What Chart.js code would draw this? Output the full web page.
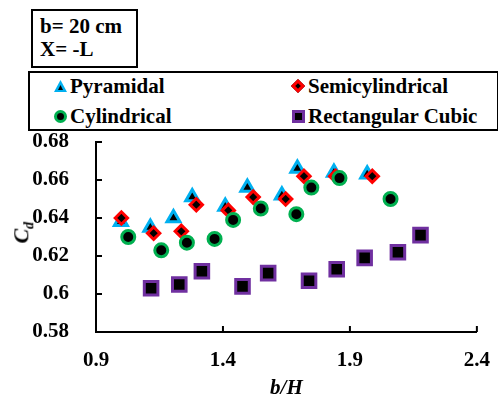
<!DOCTYPE html>
<html lang="en">
<head>
    <meta charset="UTF-8">
    <title>Cd vs b/H</title>
    <script src="https://cdn.jsdelivr.net/npm/chart.js"></script>
    <style>
        body { margin: 0; background: #fff; font-family: 'Liberation Serif', 'Times New Roman', serif; }
        #wrap { position: relative; width: 498px; height: 398px; }
        #wrap canvas { position: absolute; left: 0; top: 0; }
        .box { position: absolute; border: 2px solid #000; background: #fff; font-weight: bold; font-size: 21px; color: #000; }
        #note { left: 31px; top: 9px; width: 96px; height: 55px; line-height: 23px; padding-left: 7px; box-sizing: content-box; }
        #note div { position: relative; top: 4px; }
        #legend { left: 28px; top: 71px; width: 467px; height: 56px; }
        .item { position: absolute; height: 24px; line-height: 24px; white-space: nowrap; }
        .item span { position: absolute; left: 10px; top: 0; }
        .mk { position: absolute; left: -6px; top: 6px; box-sizing: border-box; }
        .tri { width: 13px; height: 12px; background: #00b0f0; clip-path: polygon(50% 0, 100% 100%, 0 100%); left: -6px; top: 6px; }
        .tri::after { content: ''; position: absolute; left: 4px; top: 5px; width: 5px; height: 5px; background: #000; clip-path: polygon(50% 0, 100% 100%, 0 100%); }
        .dia { width: 10px; height: 10px; border: 3px solid #ff0000; background: #000; transform: rotate(45deg); left: -5px; top: 7px; }
        .cir { width: 13px; height: 13px; border: 3px solid #00b050; background: #000; border-radius: 50%; }
        .sq { width: 13px; height: 13px; border: 3px solid #7030a0; background: #000; }
        #ytitle { position: absolute; left: 8px; top: 218px; transform: rotate(-90deg); transform-origin: center; font-weight: bold; font-style: italic; font-size: 22px; width: 30px; text-align: center; }
        #ytitle sub { font-size: 14px; }
    </style>
</head>
<body>
<div id="wrap">
    <canvas id="chart" width="498" height="398"></canvas>
    <div class="box" id="note"><div>b= 20 cm</div><div>X= -L</div></div>
    <div class="box" id="legend">
        <div class="item" style="left:30px;top:1px"><i class="mk tri"></i><span>Pyramidal</span></div>
        <div class="item" style="left:268px;top:1px"><i class="mk dia"></i><span>Semicylindrical</span></div>
        <div class="item" style="left:30px;top:31px"><i class="mk cir"></i><span>Cylindrical</span></div>
        <div class="item" style="left:268px;top:31px"><i class="mk sq"></i><span>Rectangular Cubic</span></div>
    </div>
    <div id="ytitle">C<sub>d</sub></div>
</div>

<script>
    // values
    const pyrX = [0.998, 1.114, 1.205, 1.279, 1.409, 1.496, 1.632, 1.693, 1.837, 1.968];
    const pyrY = [0.638, 0.635, 0.640, 0.651, 0.646, 0.656, 0.652, 0.666, 0.664, 0.663];

    const semiX = [1.000, 1.127, 1.236, 1.295, 1.421, 1.519, 1.647, 1.719, 1.844, 1.988];
    const semiY = [0.640, 0.632, 0.633, 0.647, 0.644, 0.651, 0.650, 0.662, 0.662, 0.662];

    const cylX = [1.027, 1.157, 1.258, 1.367, 1.440, 1.549, 1.689, 1.748, 1.859, 2.060];
    const cylY = [0.630, 0.623, 0.627, 0.629, 0.639, 0.645, 0.642, 0.656, 0.661, 0.650];

    const rectX = [1.117, 1.228, 1.317, 1.477, 1.578, 1.739, 1.848, 1.958, 2.089, 2.178];
    const rectY = [0.603, 0.605, 0.612, 0.604, 0.611, 0.607, 0.613, 0.619, 0.622, 0.631];

    const xTicks = [0.9, 1.4, 1.9, 2.4];
    const yTicks = [0.58, 0.60, 0.62, 0.64, 0.66, 0.68];

    const pts = (xs, ys) => xs.map((x, i) => ({ x: x, y: ys[i] }));

    Chart.defaults.font.family = "'Liberation Serif', 'Times New Roman', serif";
    Chart.defaults.font.weight = 'bold';
    Chart.defaults.font.size = 21;
    Chart.defaults.color = '#000';

    // short tick marks pointing into the plot
    const inwardTicks = {
        id: 'inwardTicks',
        beforeDatasetsDraw(chart) {
            const { ctx, chartArea: a, scales: { x, y } } = chart;
            ctx.save();
            ctx.strokeStyle = '#000';
            ctx.lineWidth = 2;
            ctx.beginPath();
            xTicks.forEach(v => {
                const px = x.getPixelForValue(v);
                ctx.moveTo(px, a.bottom);
                ctx.lineTo(px, a.bottom - 6);
            });
            yTicks.forEach(v => {
                const py = y.getPixelForValue(v);
                ctx.moveTo(a.left, py);
                ctx.lineTo(a.left + 6, py);
            });
            ctx.stroke();
            ctx.restore();
        }
    };

    new Chart(document.getElementById('chart'), {
        type: 'scatter',
        data: {
            datasets: [
                { label: 'Pyramidal', data: pts(pyrX, pyrY), order: 4,
                  pointStyle: 'triangle', pointRadius: 7.5, borderWidth: 3,
                  borderColor: '#00b0f0', backgroundColor: '#000' },
                { label: 'Semicylindrical', data: pts(semiX, semiY), order: 3,
                  pointStyle: 'rectRot', pointRadius: 6.2, borderWidth: 3,
                  borderColor: '#ff0000', backgroundColor: '#000' },
                { label: 'Cylindrical', data: pts(cylX, cylY), order: 2,
                  pointStyle: 'circle', pointRadius: 6.5, borderWidth: 3,
                  borderColor: '#00b050', backgroundColor: '#000' },
                { label: 'Rectangular Cubic', data: pts(rectX, rectY), order: 1,
                  pointStyle: 'rect', pointRadius: 9.6, borderWidth: 3,
                  borderColor: '#7030a0', backgroundColor: '#000' }
            ]
        },
        options: {
            responsive: false,
            animation: false,
            events: [],
            layout: { padding: { top: 142, right: 20, left: 0, bottom: 0 } },
            plugins: { legend: { display: false }, tooltip: { enabled: false } },
            scales: {
                x: {
                    type: 'linear', min: 0.9, max: 2.4,
                    afterBuildTicks: s => { s.ticks = xTicks.map(v => ({ value: v })); },
                    afterFit: s => { s.height = 66; },
                    grid: { display: false },
                    border: { color: '#000', width: 2 },
                    ticks: { padding: 8, maxRotation: 0, callback: v => String(v) },
                    title: { display: true, text: 'b/H', padding: 0,
                             font: { size: 21, style: 'italic', weight: 'bold', lineHeight: 0.9 } }
                },
                y: {
                    type: 'linear', min: 0.58, max: 0.68,
                    afterBuildTicks: s => { s.ticks = yTicks.map(v => ({ value: v })); },
                    afterFit: s => { s.width = 96; },
                    grid: { display: false },
                    border: { color: '#000', width: 2 },
                    ticks: { padding: 19, callback: v => String(+v.toFixed(2)) }
                }
            }
        },
        plugins: [inwardTicks]
    });
</script>
</body>
</html>
